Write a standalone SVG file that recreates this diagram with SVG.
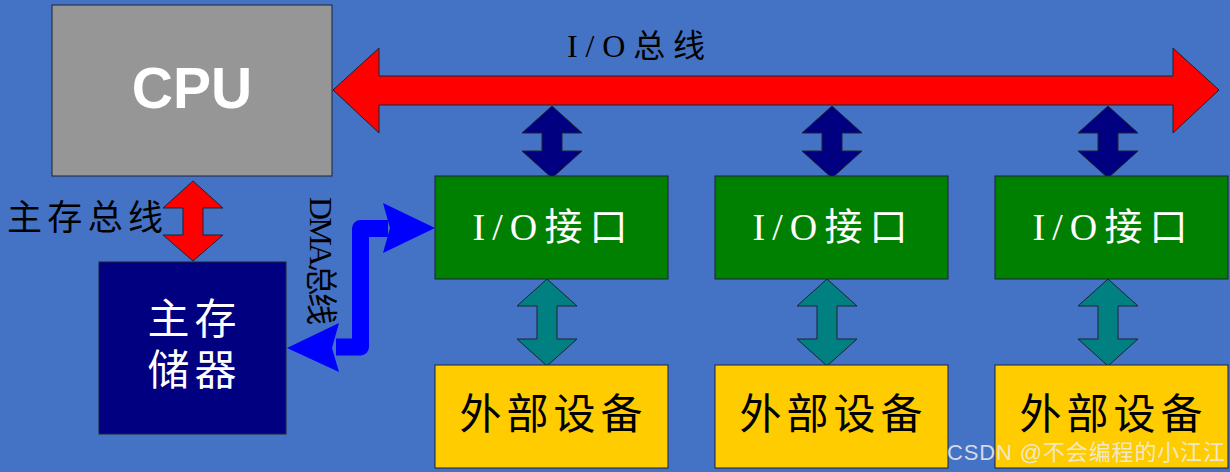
<svg xmlns="http://www.w3.org/2000/svg" width="1230" height="472" viewBox="0 0 1230 472">
<style>
.box{stroke:#1c2233;stroke-width:1}
.cjk{font-family:"Liberation Serif","Noto Sans CJK SC",serif}
.w{fill:#ffffff}
.k{fill:#000000}
.arr{stroke:#1c2233;stroke-width:1;stroke-linejoin:miter}
</style>
<rect x="0" y="0" width="1230" height="472" fill="#4472C4"/>
<g id="connectors">
  <polygon id="io-bus" class="arr" fill="#FF0000" points="333,90 379,48 379,76 1173,76 1173,48 1219,90 1173,133 1173,105 379,105 379,133"/>
  <polygon class="arr" fill="#000080" points="552,106 582,133 562,133 562,151 582,151 552,178 522,151 542,151 542,133 522,133"/>
  <polygon class="arr" fill="#000080" points="832,106 862,133 842,133 842,151 862,151 832,178 802,151 822,151 822,133 802,133"/>
  <polygon class="arr" fill="#000080" points="1108,106 1138,133 1118,133 1118,151 1138,151 1108,178 1078,151 1098,151 1098,133 1078,133"/>
  <polygon class="arr" fill="#008080" points="547,279 577,306 557,306 557,339 577,339 547,366 517,339 537,339 537,306 517,306"/>
  <polygon class="arr" fill="#008080" points="827,279 857,306 837,306 837,339 857,339 827,366 797,339 817,339 817,306 797,306"/>
  <polygon class="arr" fill="#008080" points="1108,279 1138,306 1118,306 1118,339 1138,339 1108,366 1078,339 1098,339 1098,306 1078,306"/>
  <polygon id="mem-bus" class="arr" fill="#FF0000" points="193,181 223,208 203,208 203,235 223,235 193,261 163,235 183,235 183,208 163,208"/>
  <g id="dma-bus" fill="#0000FF">
    <path d="M 336 347 H 360.5 V 228.5 H 388" fill="none" stroke="#0000FF" stroke-width="17" stroke-linejoin="round"/>
    <polygon points="435,228 383,203 390,228 383,253"/>
    <polygon points="287,348 339,323 332,348 339,372"/>
  </g>
</g>
<g id="cpu">
  <rect class="box" x="52" y="5" width="280" height="171" fill="#969696"/>
  <text x="192" y="108" text-anchor="middle" font-family="Liberation Sans,Arial,sans-serif" font-weight="bold" font-size="57" fill="#ffffff">CPU</text>
</g>
<g id="memory">
  <rect class="box" x="99" y="262" width="187" height="172" fill="#000080"/>
  <text class="cjk w" x="192" y="334" text-anchor="middle" font-size="42" textLength="89">主存</text>
  <text class="cjk w" x="192" y="385" text-anchor="middle" font-size="42" textLength="89">储器</text>
</g>
<g id="io1">
  <rect class="box" x="435" y="176" width="233" height="103" fill="#008000"/>
  <text class="cjk w" x="550" y="240" text-anchor="middle" font-size="38" textLength="155">I/O接口</text>
</g>
<g id="io2">
  <rect class="box" x="715" y="176" width="233" height="103" fill="#008000"/>
  <text class="cjk w" x="830" y="240" text-anchor="middle" font-size="38" textLength="155">I/O接口</text>
</g>
<g id="io3">
  <rect class="box" x="995" y="176" width="233" height="103" fill="#008000"/>
  <text class="cjk w" x="1110" y="240" text-anchor="middle" font-size="38" textLength="155">I/O接口</text>
</g>
<g id="dev1">
  <rect class="box" x="435" y="365" width="233" height="103" fill="#FFCC00"/>
  <text class="cjk k" x="551" y="429" text-anchor="middle" font-size="42" textLength="183">外部设备</text>
</g>
<g id="dev2">
  <rect class="box" x="715" y="365" width="233" height="103" fill="#FFCC00"/>
  <text class="cjk k" x="831" y="429" text-anchor="middle" font-size="42" textLength="183">外部设备</text>
</g>
<g id="dev3">
  <rect class="box" x="995" y="365" width="233" height="103" fill="#FFCC00"/>
  <text class="cjk k" x="1111" y="429" text-anchor="middle" font-size="42" textLength="183">外部设备</text>
</g>
<g id="labels">
  <text class="cjk k" x="567" y="57" font-size="32" textLength="138">I/O总线</text>
  <text class="cjk k" x="7" y="230" font-size="35" textLength="156">主存总线</text>
  <text class="cjk k" transform="translate(310,197) rotate(90)" font-size="32" textLength="128">DMA总线</text>
</g>
<text x="947" y="460" font-family="Liberation Sans,Arial,'Noto Sans CJK SC',sans-serif" font-size="22" fill="#eeeeee" fill-opacity="0.85" textLength="278">CSDN @不会编程的小江江</text>
</svg>
